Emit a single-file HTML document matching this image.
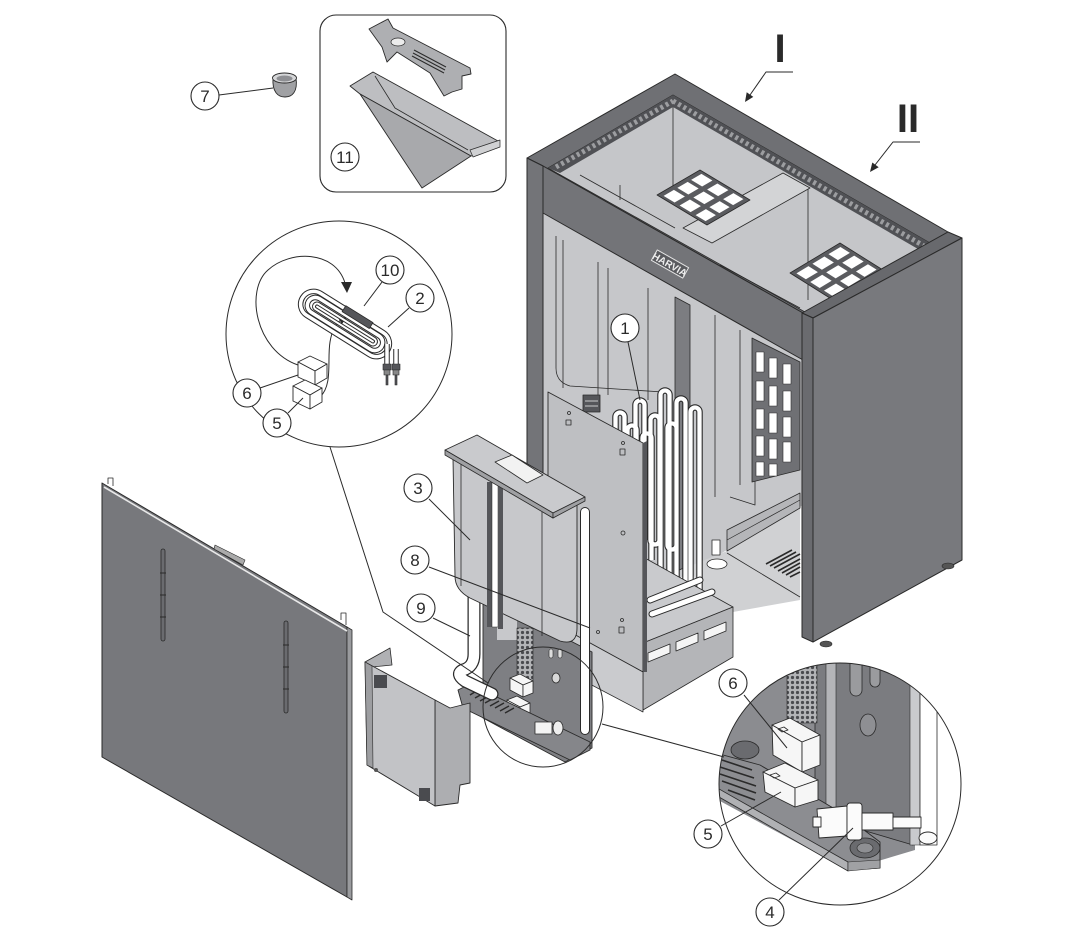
<!DOCTYPE html>
<html><head><meta charset="utf-8"><style>html,body{margin:0;padding:0;background:#fff;}svg{display:block;}</style></head>
<body>
<svg width="1074" height="936" viewBox="0 0 1074 936" xmlns="http://www.w3.org/2000/svg" font-family="'Liberation Sans', sans-serif" stroke-linejoin="round">
<defs>
<clipPath id="cb"><circle cx="840" cy="784" r="121"/></clipPath>
<pattern id="dots" width="5" height="5" patternUnits="userSpaceOnUse"><rect width="5" height="5" fill="#b3b4b7"/><circle cx="2.5" cy="2.5" r="1.6" fill="#4a4b4f"/></pattern>
<path id="tubes" d="M660.5,600 V395 A4.5,4.5 0 0 1 669.5,395 V600 M676.5,600 V403 A4.5,4.5 0 0 1 685.5,403 V600 M690.5,600 V412 A4.5,4.5 0 0 1 699.5,412 V600 M635.5,540 V405 A4.5,4.5 0 0 1 644.5,405 V540 M615.5,470 V417 A4.5,4.5 0 0 1 624.5,417 V470 M650.5,540 V420 A4.5,4.5 0 0 1 659.5,420 V540 A4.5,4.5 0 0 1 650.5,540 M667.5,545 V428 A4.5,4.5 0 0 1 676.5,428 V545 A4.5,4.5 0 0 1 667.5,545 M627.5,540 V430 A4.5,4.5 0 0 1 636.5,430 V540 M642.5,560 V438 A4.5,4.5 0 0 1 651.5,438 V560"/>
</defs>
<rect width="1074" height="936" fill="#fff"/>

<!-- ===== interior below beam ===== -->
<polygon points="543,166 803,313 803,505 727,550 643,600 543,640" fill="#c6c7ca"/>
<g stroke="#2a2a2a" stroke-width="0.8" fill="none">
<path d="M556,236 V368 Q556,382 570,386 L663,392"/>
<line x1="563" y1="240" x2="563" y2="388"/>
<line x1="598" y1="262" x2="598" y2="395"/>
<line x1="608" y1="268" x2="608" y2="395"/>
<line x1="648" y1="288" x2="648" y2="400"/>
<line x1="715" y1="315" x2="715" y2="497"/>
<line x1="740" y1="330" x2="740" y2="485"/>
<path d="M730,497 L755,505 L755,478"/>
</g>
<rect x="583" y="395" width="17" height="17" fill="#55565a" stroke="#2a2a2a" stroke-width="0.8"/>
<line x1="585" y1="401" x2="598" y2="401" stroke="#ccc" stroke-width="1"/>
<line x1="585" y1="406" x2="598" y2="406" stroke="#ccc" stroke-width="1"/>
<polygon points="675,297 690,305 690,565 675,572" fill="#7c7d81" stroke="#2a2a2a" stroke-width="0.8"/>
<!-- grid -->
<polygon points="752,338 800,362 800,470 752,482" fill="#6f7074" stroke="#2a2a2a" stroke-width="0.8"/>
<g fill="#fff" stroke="#2a2a2a" stroke-width="0.6">
<rect x="756" y="352" width="8" height="20"/><rect x="769" y="358" width="8" height="20"/><rect x="783" y="364" width="8" height="20"/>
<rect x="756" y="381" width="8" height="20"/><rect x="769" y="386" width="8" height="20"/><rect x="783" y="391" width="8" height="20"/>
<rect x="756" y="409" width="8" height="20"/><rect x="769" y="413" width="8" height="20"/><rect x="783" y="417" width="8" height="20"/>
<rect x="756" y="436" width="8" height="20"/><rect x="769" y="439" width="8" height="20"/><rect x="783" y="442" width="8" height="20"/>
<rect x="756" y="462" width="8" height="14"/><rect x="769" y="464" width="8" height="12"/>
</g>
<!-- floor & rail -->
<polygon points="690,566 727,551 800,508 800,600 733,612 700,592" fill="#d0d1d3"/>
<line x1="727" y1="553" x2="800" y2="597" stroke="#2a2a2a" stroke-width="0.8"/>
<polygon points="727,530 800,493 800,508 727,551" fill="#b5b6b9" stroke="#2a2a2a" stroke-width="0.8"/>
<line x1="727" y1="540" x2="800" y2="500" stroke="#2a2a2a" stroke-width="0.7"/>
<g stroke="#2a2a2a" stroke-width="1.6">
<line x1="766" y1="564" x2="792" y2="550"/><line x1="770" y1="566" x2="796" y2="552"/><line x1="774" y1="568" x2="800" y2="554"/><line x1="778" y1="571" x2="800" y2="559"/><line x1="782" y1="573" x2="800" y2="563"/><line x1="786" y1="575" x2="800" y2="567"/><line x1="790" y1="577" x2="800" y2="572"/>
</g>
<rect x="712" y="540" width="8" height="15" fill="#fff" stroke="#2a2a2a" stroke-width="0.8"/>
<ellipse cx="717" cy="564" rx="10" ry="5" fill="#fff" stroke="#2a2a2a" stroke-width="0.8"/>

<!-- ===== top rim & opening ===== -->
<polygon points="527,158 675,74 948,232 803,313 543,166" fill="#6f7074" stroke="#2a2a2a" stroke-width="1"/>
<polygon points="548,168 673,95 930,243 805,312" fill="#c5c6c9" stroke="#2a2a2a" stroke-width="0.8"/>
<polygon points="548,168 673,95 673,107 560,173" fill="#505155"/>
<line x1="556" y1="167" x2="673" y2="101" stroke="#9c9da0" stroke-width="5" stroke-dasharray="3 3"/>
<polygon points="673,95 930,243 918,249 673,107" fill="#505155"/>
<line x1="673" y1="101" x2="924" y2="246" stroke="#9c9da0" stroke-width="5" stroke-dasharray="3 3"/>
<g stroke="#2a2a2a" stroke-width="0.8" fill="none">
<line x1="673" y1="107" x2="673" y2="187"/>
<line x1="580" y1="175" x2="675" y2="228"/>
<line x1="620" y1="185" x2="620" y2="200"/>
<line x1="808" y1="188" x2="808" y2="300"/>
<line x1="720" y1="265" x2="800" y2="308"/>
</g>
<polygon points="683,228 783,173 810,188 712,243" fill="#d3d4d6" stroke="#2a2a2a" stroke-width="0.8"/>
<!-- grates -->
<g transform="matrix(43,-25,50,30,657,195)">
<rect x="0" y="0" width="1" height="1" fill="#5a5b5f" stroke="#2a2a2a" stroke-width="0.8" vector-effect="non-scaling-stroke"/>
<g fill="#fff"><rect x="0.06" y="0.08" width="0.24" height="0.22"/><rect x="0.38" y="0.08" width="0.24" height="0.22"/><rect x="0.70" y="0.08" width="0.24" height="0.22"/>
<rect x="0.06" y="0.40" width="0.24" height="0.22"/><rect x="0.38" y="0.40" width="0.24" height="0.22"/><rect x="0.70" y="0.40" width="0.24" height="0.22"/>
<rect x="0.06" y="0.72" width="0.24" height="0.2"/><rect x="0.38" y="0.72" width="0.24" height="0.2"/><rect x="0.70" y="0.72" width="0.24" height="0.2"/></g>
</g>
<g transform="matrix(50,-30,43,27,790,273)">
<rect x="0" y="0" width="1" height="1" fill="#5a5b5f" stroke="#2a2a2a" stroke-width="0.8" vector-effect="non-scaling-stroke"/>
<g fill="#fff"><rect x="0.06" y="0.08" width="0.24" height="0.22"/><rect x="0.38" y="0.08" width="0.24" height="0.22"/><rect x="0.70" y="0.08" width="0.24" height="0.22"/>
<rect x="0.06" y="0.40" width="0.24" height="0.22"/><rect x="0.38" y="0.40" width="0.24" height="0.22"/><rect x="0.70" y="0.40" width="0.24" height="0.22"/>
<rect x="0.06" y="0.72" width="0.24" height="0.2"/><rect x="0.38" y="0.72" width="0.24" height="0.2"/><rect x="0.70" y="0.72" width="0.24" height="0.2"/></g>
</g>

<!-- ===== heating elements ===== -->
<use href="#tubes" fill="none" stroke="#2a2a2a" stroke-width="6.5"/>
<use href="#tubes" fill="none" stroke="#fff" stroke-width="4.3"/>
<!-- box -->
<polygon points="643,557 733,607 643,643" fill="#c9cacd" stroke="#2a2a2a" stroke-width="0.8"/>
<g fill="none" stroke-linecap="round">
<path d="M650,600 L700,580 M652,614 L712,592" stroke="#2a2a2a" stroke-width="7"/>
<path d="M650,600 L700,580 M652,614 L712,592" stroke="#fff" stroke-width="5"/>
</g>
<polygon points="643,643 733,607 733,657 643,710" fill="#b4b5b8" stroke="#2a2a2a" stroke-width="0.8"/>
<g fill="#f5f5f5" stroke="#2a2a2a" stroke-width="0.8">
<polygon points="648,653 670,644 670,653 648,662"/>
<polygon points="676,642 698,633 698,642 676,651"/>
<polygon points="704,631 726,622 726,631 704,640"/>
</g>
<!-- plate -->
<polygon points="548,392 643,443 643,672 548,620" fill="#bebfc2" stroke="#2a2a2a" stroke-width="0.9"/>
<polygon points="643,443 647,441 647,672 643,672" fill="#55565a"/>
<g fill="none" stroke="#2a2a2a" stroke-width="0.8">
<rect x="566" y="420" width="5" height="5"/><circle cx="569" cy="413" r="1.5"/>
<rect x="620" y="449" width="5" height="6"/><circle cx="623" cy="443" r="1.5"/>
<circle cx="623" cy="533" r="2"/><circle cx="598" cy="632" r="1.5"/>
<rect x="619" y="627" width="5" height="6"/><circle cx="622" cy="620" r="1.5"/>
</g>
<polygon points="548,620 643,672 643,712 548,662" fill="#cacbce" stroke="#2a2a2a" stroke-width="0.8"/>

<!-- ===== beam, posts, side panel ===== -->
<polygon points="543,166 803,313 803,360 543,213" fill="#737478" stroke="#2a2a2a" stroke-width="1"/>
<g transform="translate(670,264) rotate(29.5)">
<rect x="-18" y="-6" width="36" height="12" fill="#5a5b5f" stroke="#e5e5e5" stroke-width="1"/>
<text x="0" y="4" font-size="10" fill="#eee" text-anchor="middle" font-weight="bold">HARVIA</text>
</g>
<polygon points="527,158 543,166 543,700 527,692" fill="#737478" stroke="#2a2a2a" stroke-width="1"/>
<polygon points="802,313 948,232 962,238 813,318" fill="#68696d" stroke="#2a2a2a" stroke-width="1"/>
<polygon points="802,313 813,318 813,642 802,637" fill="#6a6b6f" stroke="#2a2a2a" stroke-width="1"/>
<polygon points="813,318 962,238 962,560 813,642" fill="#78797d" stroke="#2a2a2a" stroke-width="1"/>
<ellipse cx="826" cy="644" rx="6" ry="3" fill="#555" stroke="#2a2a2a" stroke-width="0.6"/>
<ellipse cx="948" cy="566" rx="6" ry="3" fill="#555" stroke="#2a2a2a" stroke-width="0.6"/>

<!-- ===== control unit ===== -->
<polygon points="483,596 592,652 592,748 565,762 483,718" fill="#7e7f83" stroke="#2a2a2a" stroke-width="0.9"/>
<rect x="497" y="595" width="20" height="45" fill="#c7c8cb"/>
<rect x="517" y="628" width="16" height="60" fill="url(#dots)" stroke="#2a2a2a" stroke-width="0.6"/>
<ellipse cx="556" cy="678" rx="4" ry="5" fill="#d8d8d8" stroke="#2a2a2a" stroke-width="0.8"/>
<rect x="549" y="649" width="4" height="9" rx="2" fill="#ddd" stroke="#2a2a2a" stroke-width="0.6"/>
<rect x="558" y="649" width="4" height="9" rx="2" fill="#ddd" stroke="#2a2a2a" stroke-width="0.6"/>
<g fill="#f6f6f6" stroke="#2a2a2a" stroke-width="0.8">
<polygon points="510,678 520,674 533,681 523,685"/><polygon points="510,678 523,685 523,697 510,690"/><polygon points="523,685 533,681 533,693 523,697"/>
<polygon points="507,700 517,696 530,703 520,707"/><polygon points="507,700 520,707 520,719 507,712"/><polygon points="520,707 530,703 530,715 520,719"/>
</g>
<polygon points="458,690 470,684 590,742 590,750 570,760 463,708" fill="#85868a" stroke="#2a2a2a" stroke-width="0.9"/>
<g stroke="#2a2a2a" stroke-width="1.4">
<line x1="470" y1="695" x2="478" y2="690"/><line x1="475" y1="698" x2="484" y2="693"/><line x1="480" y1="701" x2="489" y2="696"/><line x1="485" y1="703" x2="494" y2="698"/><line x1="490" y1="706" x2="499" y2="701"/><line x1="495" y1="708" x2="504" y2="703"/><line x1="500" y1="711" x2="509" y2="706"/><line x1="505" y1="713" x2="514" y2="708"/>
</g>
<polygon points="535,722 552,722 552,734 535,734" fill="#f4f4f4" stroke="#2a2a2a" stroke-width="0.8"/>
<ellipse cx="558" cy="728" rx="5" ry="7" fill="#eee" stroke="#2a2a2a" stroke-width="0.8"/>
<g fill="none" stroke-linecap="round">
<path d="M585,512 V730" stroke="#2a2a2a" stroke-width="10"/>
<path d="M585,512 V730" stroke="#fff" stroke-width="8"/>
<path d="M474,588 L474,654 Q474,667 463,670 Q455,674 465,681 L492,694" stroke="#2a2a2a" stroke-width="13"/>
<path d="M474,588 L474,654 Q474,667 463,670 Q455,674 465,681 L492,694" stroke="#fff" stroke-width="10.5"/>
</g>
<!-- part 3 -->
<path d="M453,458 L553,518 L577,503 L577,628 Q577,646 560,641 L470,598 Q455,590 455,576 Z" fill="#c7c8cb" stroke="#2a2a2a" stroke-width="0.9"/>
<line x1="461" y1="462" x2="461" y2="586" stroke="#2a2a2a" stroke-width="0.8"/>
<line x1="542" y1="512" x2="542" y2="636" stroke="#2a2a2a" stroke-width="0.8"/>
<rect x="487" y="482" width="5" height="145" fill="#55565a"/>
<rect x="492" y="482" width="6" height="145" fill="#fff" stroke="#2a2a2a" stroke-width="0.5"/>
<rect x="498" y="482" width="5" height="147" fill="#55565a"/>
<polygon points="445,450 477,435 585,497 553,513" fill="#c9cacd" stroke="#2a2a2a" stroke-width="0.9"/>
<polygon points="445,450 553,513 553,518 445,455" fill="#9fa0a3" stroke="#2a2a2a" stroke-width="0.8"/>
<polygon points="553,513 585,497 585,501 553,518" fill="#9fa0a3" stroke="#2a2a2a" stroke-width="0.8"/>
<polygon points="495,462 512,455 543,475 527,483" fill="#f2f2f2" stroke="#2a2a2a" stroke-width="0.8"/>

<!-- ===== small cover ===== -->
<polygon points="365,662 390,648 392,665 372,667" fill="#b0b1b4" stroke="#2a2a2a" stroke-width="0.8"/>
<polygon points="435,700 450,708 470,703 470,783 460,785 458,803 435,806" fill="#adaeb1" stroke="#2a2a2a" stroke-width="0.9"/>
<polygon points="365,662 435,700 435,806 367,765" fill="#c2c3c6" stroke="#2a2a2a" stroke-width="0.9"/>
<polygon points="365,662 372,666 373,768 367,765" fill="#9d9ea1" stroke="#2a2a2a" stroke-width="0.6"/>
<rect x="374" y="675" width="13" height="13" fill="#4a4b4f"/>
<rect x="419" y="788" width="11" height="13" fill="#4a4b4f"/>
<circle cx="376" cy="770" r="2" fill="#555"/>

<!-- ===== big front panel ===== -->
<polygon points="102,483 347,627 347,897 102,757" fill="#77787c" stroke="#2a2a2a" stroke-width="1"/>
<polygon points="347,627 352,630 352,900 347,897" fill="#9a9b9e" stroke="#2a2a2a" stroke-width="0.8"/>
<line x1="104" y1="487" x2="347" y2="631" stroke="#e8e8e8" stroke-width="1.6"/>
<polygon points="215,545 245,560 243,565 214,549" fill="#aaa" stroke="#2a2a2a" stroke-width="0.6"/>
<path d="M108,484 V478 H113 V486 M341,620 V613 H346 V625" fill="none" stroke="#2a2a2a" stroke-width="0.8"/>
<rect x="161" y="549" width="4" height="92" rx="2" fill="#6a6b6f" stroke="#2a2a2a" stroke-width="0.8"/>
<rect x="284" y="621" width="4" height="92" rx="2" fill="#6a6b6f" stroke="#2a2a2a" stroke-width="0.8"/>
<g stroke="#2a2a2a" stroke-width="1"><line x1="160" y1="573" x2="166" y2="573"/><line x1="160" y1="595" x2="166" y2="595"/><line x1="160" y1="617" x2="166" y2="617"/><line x1="283" y1="645" x2="289" y2="645"/><line x1="283" y1="667" x2="289" y2="667"/><line x1="283" y1="689" x2="289" y2="689"/></g>

<!-- ===== lower-right detail circle ===== -->
<circle cx="840" cy="784" r="121" fill="#fff"/>
<g clip-path="url(#cb)">
<polygon points="700,660 915,660 915,850 848,870 718,800 700,770" fill="#8b8c90"/>
<polygon points="815,660 913,660 913,845 835,822 815,812" fill="#7b7c80" stroke="#2a2a2a" stroke-width="0.8"/>
<polygon points="826,660 836,660 836,822 826,816" fill="#b4b5b8" stroke="#2a2a2a" stroke-width="0.6"/>
<rect x="787" y="660" width="30" height="63" fill="url(#dots)" stroke="#2a2a2a" stroke-width="0.6"/>
<path d="M850,660 V690 A6,6 0 0 0 862,690 V660" fill="#9a9b9e" stroke="#2a2a2a" stroke-width="0.8"/>
<path d="M870,660 V682 A5,5 0 0 0 880,682 V660" fill="#9a9b9e" stroke="#2a2a2a" stroke-width="0.8"/>
<ellipse cx="868" cy="725" rx="8" ry="11" fill="#8e8f93" stroke="#2a2a2a" stroke-width="0.8"/>
<circle cx="913" cy="777" r="1.5" fill="#2a2a2a"/>
<rect x="910" y="660" width="10" height="185" fill="#c9cacd" stroke="#2a2a2a" stroke-width="0.6"/>
<rect x="920" y="660" width="17" height="185" fill="#fff" stroke="#2a2a2a" stroke-width="0.8"/>
<ellipse cx="745" cy="750" rx="14" ry="9" fill="#6a6b6f" stroke="#2a2a2a" stroke-width="0.8"/>
<!-- tray -->
<polygon points="712,752 760,765 840,812 880,842 880,868 848,870 712,790" fill="#8c8d91" stroke="#2a2a2a" stroke-width="0.9"/>
<polygon points="712,785 848,862 848,871 712,793" fill="#b0b1b4" stroke="#2a2a2a" stroke-width="0.8"/>
<polygon points="848,862 880,860 880,868 848,871" fill="#a0a1a4" stroke="#2a2a2a" stroke-width="0.6"/>
<g stroke="#2a2a2a" stroke-width="1.6">
<line x1="722" y1="760" x2="752" y2="770"/><line x1="720" y1="767" x2="754" y2="778"/><line x1="720" y1="774" x2="756" y2="786"/><line x1="722" y1="781" x2="756" y2="793"/><line x1="728" y1="790" x2="755" y2="800"/>
</g>
<!-- relays -->
<g fill="#f6f6f6" stroke="#2a2a2a" stroke-width="0.9">
<polygon points="772,725 790,718 820,735 802,742"/><polygon points="772,725 802,742 802,772 773,755"/><polygon points="802,742 820,735 820,765 802,772"/>
<polygon points="763,772 785,763 818,780 795,788"/><polygon points="763,772 795,788 795,807 765,792"/><polygon points="795,788 818,780 818,800 795,807"/>
</g>
<path d="M778,729 l6,-2 l4,3 l-6,2 z M770,775 l6,-2 l4,3 l-6,2 z" fill="none" stroke="#2a2a2a" stroke-width="0.8"/>
<!-- component 4 -->
<ellipse cx="865" cy="848" rx="15" ry="10" fill="#6a6b6f" stroke="#2a2a2a" stroke-width="0.8"/>
<ellipse cx="865" cy="848" rx="8" ry="5" fill="#8e8f93" stroke="#2a2a2a" stroke-width="0.6"/>
<g fill="#fbfbfb" stroke="#2a2a2a" stroke-width="0.9">
<polygon points="817,809 847,806 847,836 819,838"/>
<rect x="813" y="817" width="8" height="10"/>
<rect x="847" y="803" width="15" height="37" rx="3"/>
<rect x="862" y="813" width="31" height="17"/>
<rect x="893" y="817" width="28" height="11"/>
<ellipse cx="928" cy="838" rx="9" ry="6"/>
</g>
</g>
<circle cx="840" cy="784" r="121" fill="none" stroke="#2a2a2a" stroke-width="1"/>

<!-- small circle & connectors -->
<circle cx="543" cy="707" r="60" fill="none" stroke="#2a2a2a" stroke-width="1"/>
<line x1="602" y1="724" x2="724" y2="757" stroke="#2a2a2a" stroke-width="1"/>
<polyline points="330,447 383,612 488,683" fill="none" stroke="#2a2a2a" stroke-width="1"/>

<!-- ===== upper detail circle ===== -->
<circle cx="339" cy="334" r="113" fill="#fff" stroke="#2a2a2a" stroke-width="1"/>
<g fill="none" stroke-linecap="round">
<path d="M298,365 C255,350 245,290 268,270 C290,250 335,250 345,283" stroke="#2a2a2a" stroke-width="1"/>
<path d="M320,397 C333,385 327,360 330,342 C332,330 336,323 341,320" stroke="#2a2a2a" stroke-width="1"/>
</g>
<polygon points="341,282 352,282 347,293" fill="#2a2a2a"/>
<polygon points="347,317 341.9,324.1 338.3,318.1" fill="#2a2a2a"/>
<g transform="rotate(32 345 324)">
<rect x="295" y="311" width="100" height="26" rx="13" fill="none" stroke="#2a2a2a" stroke-width="5.5"/>
<rect x="295" y="311" width="100" height="26" rx="13" fill="none" stroke="#fff" stroke-width="3.5"/>
<rect x="302" y="316" width="86" height="16" rx="8" fill="none" stroke="#2a2a2a" stroke-width="5.5"/>
<rect x="302" y="316" width="86" height="16" rx="8" fill="none" stroke="#fff" stroke-width="3.5"/>
<rect x="309" y="321" width="72" height="6" rx="3" fill="none" stroke="#2a2a2a" stroke-width="4"/>
<rect x="309" y="321" width="72" height="6" rx="3" fill="none" stroke="#fff" stroke-width="2"/>
<rect x="336" y="308" width="32" height="7" fill="#55565a" stroke="#2a2a2a" stroke-width="0.8"/>
</g>
<g fill="none" stroke-linecap="butt">
<path d="M387,344 V364 M396,349 V364" stroke="#2a2a2a" stroke-width="5.5"/>
<path d="M387,344 V364 M396,349 V364" stroke="#fff" stroke-width="3.5"/>
</g>
<g fill="#55565a" stroke="#2a2a2a" stroke-width="0.6">
<rect x="383" y="364" width="8" height="6"/><rect x="392" y="364" width="8" height="6"/>
<rect x="384" y="370" width="6" height="5" fill="#888"/><rect x="393" y="370" width="6" height="5" fill="#888"/>
<rect x="386" y="375" width="2" height="10"/><rect x="395" y="375" width="2" height="10"/>
</g>
<g fill="#fff" stroke="#2a2a2a" stroke-width="0.9">
<polygon points="298,362 310,356 327,364 315,371"/><polygon points="298,362 315,371 315,385 298,377"/><polygon points="315,371 327,364 327,378 315,385"/>
<polygon points="293,386 305,380 322,388 310,395"/><polygon points="293,386 310,395 310,409 293,401"/><polygon points="310,395 322,388 322,402 310,409"/>
</g>

<!-- ===== part 11 box & part 7 ===== -->
<rect x="320" y="15" width="186" height="177" rx="16" fill="#fff" stroke="#2a2a2a" stroke-width="1.1"/>
<polygon points="350,86 373,72 498,141 497,148 471,156 360,94" fill="#bdbec1" stroke="#2a2a2a" stroke-width="0.9"/>
<polygon points="360,94 471,156 422,188" fill="#a8a9ac" stroke="#2a2a2a" stroke-width="0.9"/>
<polyline points="375,76 395,108 468,150" fill="none" stroke="#2a2a2a" stroke-width="0.8"/>
<polygon points="470,150 500,140 500,147 473,157" fill="#d0d1d3" stroke="#2a2a2a" stroke-width="0.7"/>
<polygon points="369,29 388,19 393,28 470,68 471,74 462,76 462,89 452,92 444,96 430,73 397,52 387,62 382,47" fill="#aeafb2" stroke="#2a2a2a" stroke-width="0.9"/>
<ellipse cx="398" cy="42" rx="7" ry="4" fill="#ececec" stroke="#2a2a2a" stroke-width="0.7"/>
<g stroke="#2a2a2a" stroke-width="1"><line x1="414" y1="50" x2="446" y2="67"/><line x1="413" y1="53" x2="445" y2="70"/><line x1="412" y1="56" x2="444" y2="73"/></g>
<path d="M273,78 C272,92 278,97 285,97 C292,97 298,92 296,78 Z" fill="#a0a1a4" stroke="#2a2a2a" stroke-width="0.9"/>
<ellipse cx="284.5" cy="78" rx="12" ry="5" fill="#d5d6d8" stroke="#2a2a2a" stroke-width="0.9"/>
<ellipse cx="284.5" cy="78.5" rx="8" ry="3" fill="#8e8f93"/>

<!-- ===== leaders ===== -->
<g stroke="#2a2a2a" stroke-width="1" fill="none">
<line x1="219" y1="95" x2="273" y2="88"/>
<line x1="628" y1="342" x2="640" y2="400"/>
<line x1="429" y1="499" x2="470" y2="540"/>
<line x1="429" y1="567" x2="590" y2="628"/>
<line x1="433" y1="618" x2="470" y2="636"/>
<line x1="382" y1="282" x2="364" y2="306"/>
<line x1="409" y1="308" x2="388" y2="327"/>
<line x1="260" y1="388" x2="298" y2="375"/>
<line x1="288" y1="413" x2="303" y2="398"/>
<line x1="744" y1="695" x2="787" y2="748"/>
<line x1="721" y1="826" x2="781" y2="792"/>
<line x1="779" y1="900" x2="853" y2="828"/>
<polyline points="793,72 766,72 750,95"/>
<polyline points="920,142 893,142 875,165"/>
</g>
<polygon points="745,102 753.3,96.9 746.7,92.3" fill="#2a2a2a"/>
<polygon points="870,172 878.7,167.3 872.3,162.5" fill="#2a2a2a"/>
<text x="780" y="62" font-size="40" font-weight="bold" text-anchor="middle" fill="#2a2a2a">I</text>
<text x="908" y="132" font-size="40" font-weight="bold" text-anchor="middle" fill="#2a2a2a">II</text>

<!-- ===== callouts ===== -->
<g font-size="17" text-anchor="middle" fill="#2a2a2a">
<g fill="#fff" stroke="#2a2a2a" stroke-width="1.1">
<circle cx="205" cy="96" r="14"/><circle cx="345" cy="157" r="14"/><circle cx="390" cy="270" r="14"/><circle cx="420" cy="298" r="14"/>
<circle cx="247" cy="393" r="14"/><circle cx="277" cy="423" r="14"/><circle cx="625" cy="328" r="14"/><circle cx="418" cy="488" r="14"/>
<circle cx="415" cy="560" r="14"/><circle cx="421" cy="608" r="14"/><circle cx="733" cy="683" r="14"/><circle cx="708" cy="834" r="14"/>
<circle cx="770" cy="912" r="14"/>
</g>
<text x="205" y="102">7</text><text x="345" y="163">11</text><text x="390" y="276">10</text><text x="420" y="304">2</text>
<text x="247" y="399">6</text><text x="277" y="429">5</text><text x="625" y="334">1</text><text x="418" y="494">3</text>
<text x="415" y="566">8</text><text x="421" y="614">9</text><text x="733" y="689">6</text><text x="708" y="840">5</text>
<text x="770" y="918">4</text>
</g>
</svg>
</body></html>
